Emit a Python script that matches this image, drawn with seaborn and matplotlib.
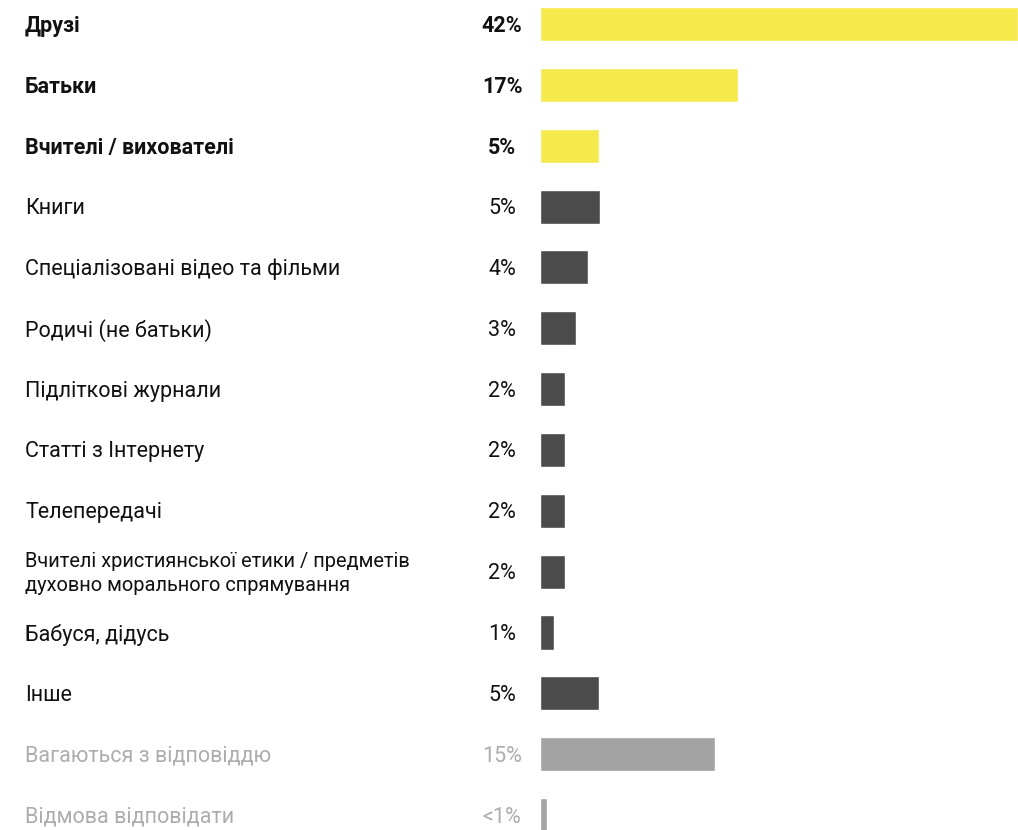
import numpy as np
import pandas as pd
import matplotlib
matplotlib.use("Agg")
import matplotlib.pyplot as plt
import matplotlib.transforms as mtransforms
import seaborn as sns

# data
categories = [
    "Друзі",
    "Батьки",
    "Вчителі / вихователі",
    "Книги",
    "Спеціалізовані відео та фільми",
    "Родичі (не батьки)",
    "Підліткові журнали",
    "Статті з Інтернету",
    "Телепередачі",
    "Вчителі християнської етики / предметів\nдуховно морального спрямування",
    "Бабуся, дідусь",
    "Інше",
    "Вагаються з відповіддю",
    "Відмова відповідати",
]
values = [42.0, 17.4, 5.2, 5.3, 4.2, 3.2, 2.2, 2.2, 2.2, 2.2, 1.25, 5.2, 15.4, 0.65]
pct_labels = ["42%", "17%", "5%", "5%", "4%", "3%", "2%", "2%", "2%", "2%", "1%", "5%", "15%", "<1%"]
groups = ["top"] * 3 + ["other"] * 9 + ["no answer"] * 2

bar_colors = {"top": "#F6E94C", "other": "#4B4B4B", "no answer": "#A3A3A3"}
text_colors = {"top": "#111111", "other": "#111111", "no answer": "#ADADAD"}
weights = {"top": "bold", "other": "normal", "no answer": "normal"}

df = pd.DataFrame({"cat": categories, "val": values, "group": groups})

sns.set_style("white")
plt.rcParams["font.family"] = ["Roboto", "DejaVu Sans"]

fig = plt.figure(figsize=(10.18, 8.30), dpi=100)
ax = fig.add_axes([540 / 1018, 0, 478 / 1018, 1])

sns.barplot(data=df, x="val", y="cat", hue="group", palette=bar_colors,
            orient="h", width=0.56, dodge=False, legend=False, ax=ax,
            saturation=1)

# row centres at 24px from top, pitch ~60.85px
pitch = 60.85
ax.set_ylim((830 - 24) / pitch, -24 / pitch)
ax.set_xlim(0, 42.0)
ax.set_axis_off()

trans = mtransforms.blended_transform_factory(fig.transFigure, ax.transData)
trans = mtransforms.offset_copy(trans, fig=fig, y=-2, units="dots")
for i, (cat, lab, g) in enumerate(zip(categories, pct_labels, groups)):
    fs = 14.4 if "\n" in cat else 15.5
    ax.text(25 / 1018, i, cat, transform=trans, ha="left", va="center",
            fontsize=fs, color=text_colors[g], fontweight=weights[g],
            linespacing=1.3, clip_on=False)
    ax.text(502 / 1018, i, lab, transform=trans, ha="center", va="center",
            fontsize=15.5, color=text_colors[g], fontweight=weights[g],
            clip_on=False)

fig.savefig("out.png", dpi=100)
